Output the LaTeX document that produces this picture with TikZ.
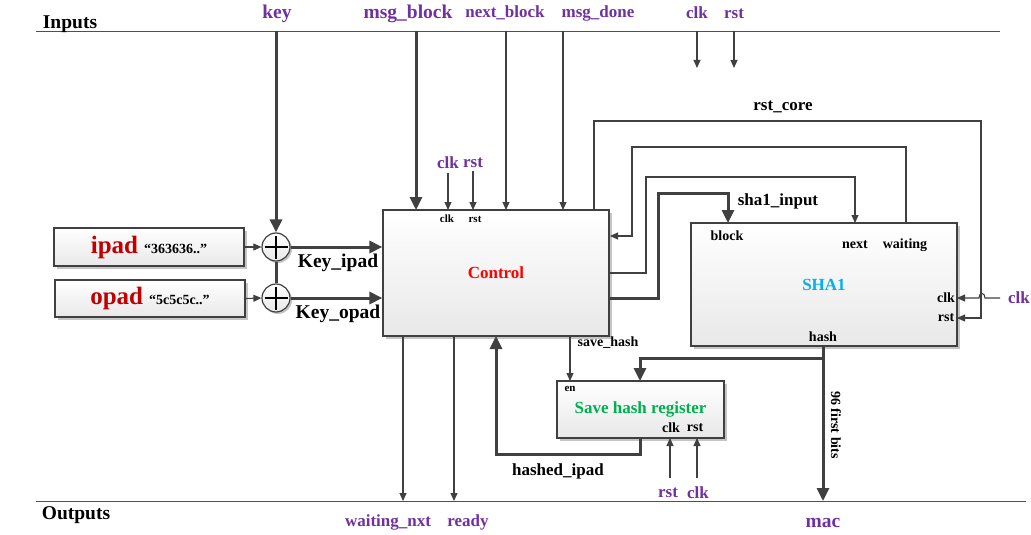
\documentclass[tikz,border=0pt]{standalone}
\usepackage{fontspec}
\setmainfont{Liberation Serif}
\usepackage{xcolor}
\usepackage{tikz}
\usetikzlibrary{arrows.meta, positioning, calc, shadows}

\definecolor{sigpurple}{HTML}{7030A0}
\definecolor{wiregray}{HTML}{404040}
\definecolor{padred}{HTML}{C00000}
\definecolor{ctrlred}{HTML}{FF0000}
\definecolor{shablue}{HTML}{00B0F0}
\definecolor{reggreen}{HTML}{00B050}
\newcommand{\fsz}[1]{\fontsize{#1}{#1}\selectfont\bfseries}

\begin{document}
\begin{tikzpicture}[x=1pt, y=-1pt,
    wire/.style={draw=wiregray, line width=1.1pt, -{Triangle[length=8pt,width=7pt]}},
    bus/.style={draw=wiregray, line width=3pt, -{Triangle[length=13pt,width=12pt]}},
    blockbox/.style={draw=wiregray, line width=1.2pt, top color=white, bottom color=black!9,
        drop shadow={shadow xshift=3pt, shadow yshift=-3pt, fill=black!45}, inner sep=0pt},
    xorbox/.style={circle, draw=wiregray, line width=1.2pt, top color=white, bottom color=black!9,
        drop shadow={shadow xshift=2pt, shadow yshift=-2pt, fill=black!45}, minimum size=28, inner sep=0pt,
        path picture={\draw[line width=2.4pt, black]
            ([yshift=-2.5pt]path picture bounding box.north) -- ([yshift=2.5pt]path picture bounding box.south)
            ([xshift=2.5pt]path picture bounding box.west) -- ([xshift=-2.5pt]path picture bounding box.east);}},
    sig/.style={text=sigpurple, font=\fsz{17}},
    bigsig/.style={text=sigpurple, font=\fsz{19.5}},
    port/.style={font=\fsz{14}},
    lbl/.style={font=\fsz{17}}]

    \useasboundingbox (0,0) rectangle (1031,535);

    % Rails
    \coordinate (inTop) at (36,31);
    \coordinate (outBot) at (36,501);
    \draw [sigpurple, line width=0.9pt] (inTop) -- (1000,31);
    \draw [sigpurple, line width=0.9pt] (outBot) -- (1026,501);
    \node[font=\fsz{19.5}] (inputs) at (70,24) {Inputs};
    \node[font=\fsz{19.5}] (outputs) at (76,515) {Outputs};

    % Blocks
    \node[blockbox, minimum width=226, minimum height=126, text=ctrlred, font=\fsz{17}] (ctrl) at (496,273) {Control};
    \node[blockbox, minimum width=266, minimum height=123, text=shablue, font=\fsz{17}] (sha) at (824,284.5) {SHA1};
    \node[blockbox, minimum width=167, minimum height=57, text=reggreen, font=\fsz{17}] (reg) at (640.5,409.5) {Save hash register};
    \node[blockbox, minimum width=190, minimum height=38] (ipad) at (149,247)
        {\textcolor{padred}{\fsz{25}ipad}\hspace{6pt}{\fsz{14}“363636..”}};
    \node[blockbox, minimum width=190, minimum height=37] (opad) at (150,298.5)
        {\textcolor{padred}{\fsz{25}opad}\hspace{6pt}{\fsz{14}“5c5c5c..”}};
    \node[xorbox] (xi) at (276,247) {};
    \node[xorbox] (xo) at (276,298) {};

    % Ports
    \coordinate (c-msg) at (416,210);
    \coordinate (c-clk) at (448,210);
    \coordinate (c-rst) at (473,210);
    \coordinate (c-nxt) at (506,210);
    \coordinate (c-done) at (563,210);
    \coordinate (c-core) at (594,210);
    \coordinate (c-wait) at (610,236);
    \coordinate (c-next) at (609,273);
    \coordinate (c-blk) at (609,298);
    \coordinate (c-wnx) at (403,336);
    \coordinate (c-rdy) at (454,336);
    \coordinate (c-hin) at (496,336);
    \coordinate (c-save) at (570,336);
    \coordinate (s-blk) at (728,223);
    \coordinate (s-next) at (855,223);
    \coordinate (s-wait) at (906,223);
    \coordinate (s-clk) at (957,298);
    \coordinate (s-rst) at (957,318);
    \coordinate (s-hash) at (823,346);
    \coordinate (r-en) at (570,381);
    \coordinate (r-in) at (640,381);
    \coordinate (r-out) at (640,438);
    \coordinate (r-clk) at (670,438);
    \coordinate (r-rst) at (697,438);
    \coordinate (hsplit) at (823,358);

    % Port labels
    \node[font=\fsz{11}] at (447,219) {clk};
    \node[font=\fsz{11}] at (475,219) {rst};
    \node[port] at (727,236) {block};
    \node[port] at (855,245) {next};
    \node[port] at (905,245) {waiting};
    \node[port] at (946,298) {clk};
    \node[port] at (946,318) {rst};
    \node[port] at (823,337) {hash};
    \node[font=\fsz{11}] at (570,389) {en};
    \node[port] at (671,428) {clk};
    \node[port] at (695,428) {rst};

    % Inputs
    \node[bigsig] (keyT) at (277,14) {key};
    \node[bigsig] (msgT) at (408,14) {msg\_block};
    \node[sig] (nxtT) at (505,13) {next\_block};
    \node[sig] (doneT) at (598,13) {msg\_done};
    \node[sig] (clkT) at (697,13) {clk};
    \node[sig] (rstT) at (734,14) {rst};
    \draw [bus] (xi |- inTop) -- (xi.north);
    \draw [bus] (c-msg |- inTop) -- (c-msg);
    \draw [wire] (c-nxt |- inTop) -- (c-nxt);
    \draw [wire] (c-done |- inTop) -- (c-done);
    \draw [wire] (clkT |- inTop) -- ++(0,37);
    \draw [wire] (rstT |- inTop) -- ++(0,37);

    % Pads and keys
    \draw [wire] (ipad.east) -- (xi.west);
    \draw [wire] (opad.east) -- (xo.west);
    \draw [bus, -] (xi.south) -- (xo.north);
    \draw [bus] (xi.east) -- (xi.east -| ctrl.west);
    \draw [bus] (xo.east) -- (xo.east -| ctrl.west);
    \node[font=\fsz{19.5}] at (338,263) {Key\_ipad};
    \node[font=\fsz{19.5}] at (338,314) {Key\_opad};

    % Control clock/reset
    \node[sig] (clkC) at (448,163) {clk};
    \node[sig] (rstC) at (473,163) {rst};
    \draw [wire] (clkC.south) -- (c-clk);
    \draw [wire] (rstC.south) -- (c-rst);

    % Control <-> SHA1
    \draw [wire] (c-core) |- (981,121) |- (s-rst);
    \node[lbl] at (783,107) {rst\_core};
    \draw [wire] (s-wait) |- (632,147) |- (c-wait);
    \draw [wire] (c-next) -| (646,177) -| (s-next);
    \draw [bus] (c-blk) -| (658,193) -| (s-blk);
    \node[lbl] at (778,201) {sha1\_input};
    \node[sig] (clkS) at (1019,298) {clk};
    \draw [wire] ($(s-clk)+(43,0)$) -- (985,298) .. controls (985,292) and (979,292) .. (979,298) -- (s-clk);

    % Hash path
    \draw [bus, -] (s-hash) -- (hsplit);
    \draw [bus] (hsplit) -| (r-in);
    \node[sigpurple, font=\fsz{19.5}] (mac) at (823,523) {mac};
    \draw [bus] (hsplit) -- (hsplit |- outBot);
    \node[port, rotate=-90] at (836,425) {96 first bits};
    \draw [bus] (r-out) -- ++(0,16) -| (c-hin);
    \node[lbl] at (558,471) {hashed\_ipad};
    \draw [wire] (c-save) -- (r-en);
    \node[port] at (608,343) {save\_hash};

    % Register clock/reset
    \node[sig] (rstR) at (668,493) {rst};
    \node[sig] (clkR) at (698,493) {clk};
    \draw [wire] ($(r-clk)+(0,40)$) -- (r-clk);
    \draw [wire] ($(r-rst)+(0,40)$) -- (r-rst);

    % Outputs
    \node[sig] (wnxB) at (388,522) {waiting\_nxt};
    \node[sig] (rdyB) at (468,522) {ready};
    \draw [wire] (c-wnx) -- (c-wnx |- outBot);
    \draw [wire] (c-rdy) -- (c-rdy |- outBot);

\end{tikzpicture}
\end{document}
